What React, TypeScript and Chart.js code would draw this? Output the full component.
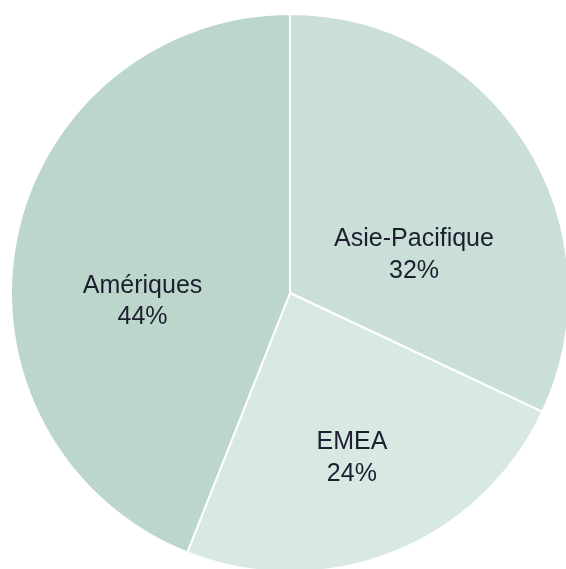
import React, { useEffect, useRef } from "react";
import { Chart, registerables } from "chart.js";

Chart.register(...registerables);

const regions = ["Asie-Pacifique", "EMEA", "Amériques"];
const shares = [32, 24, 44];
const sliceColors = ["#cadfd7", "#d8e9e3", "#bcd6cc"];

// label placement inside each slice: fraction of the slice's sweep, fraction of radius
const labelAngleFrac = [0.626, 0.509, 0.416];
const labelRadiusFrac = [0.467, 0.624, 0.529];

const labelPlugin = {
  id: "sliceLabels",
  afterDatasetsDraw(chart: any) {
    const ctx = chart.ctx;
    const meta = chart.getDatasetMeta(0);
    ctx.save();
    ctx.fillStyle = "#1c1f30";
    ctx.font = '25px "Liberation Sans", Arial, sans-serif';
    ctx.textAlign = "center";
    ctx.textBaseline = "alphabetic";
    meta.data.forEach((arc: any, i: number) => {
      const p = arc.getProps(["x", "y", "startAngle", "endAngle", "outerRadius"], true);
      const a = p.startAngle + (p.endAngle - p.startAngle) * labelAngleFrac[i];
      const r = p.outerRadius * labelRadiusFrac[i];
      const cx = p.x + Math.cos(a) * r;
      const cy = p.y + Math.sin(a) * r;
      // block: cap top of line 1 to baseline of line 2 centred on (cx, cy)
      ctx.fillText(regions[i], cx, cy - 6.5);
      ctx.fillText(shares[i] + "%", cx, cy + 25);
    });
    ctx.restore();
  },
};

export default function App() {
  const ref = useRef<HTMLCanvasElement | null>(null);
  useEffect(() => {
    if (!ref.current) return;
    const chart = new Chart(ref.current, {
      type: "pie",
      data: {
        labels: regions,
        datasets: [
          {
            data: shares,
            backgroundColor: sliceColors,
            borderColor: "#ffffff",
            borderWidth: 2,
          },
        ],
      },
      options: {
        responsive: false,
        animation: false,
        radius: 279,
        plugins: {
          legend: { display: false },
          tooltip: { enabled: false },
        },
      } as any,
      plugins: [labelPlugin],
    });
    return () => chart.destroy();
  }, []);
  return (
    <div
      style={{
        position: "fixed",
        left: 0,
        top: 0,
        width: 566,
        height: 569,
        overflow: "hidden",
        background: "#ffffff",
      }}
    >
      <canvas
        ref={ref}
        width={580}
        height={586}
        style={{ position: "absolute", left: 0, top: 0, width: 580, height: 586 }}
      />
    </div>
  );
}
